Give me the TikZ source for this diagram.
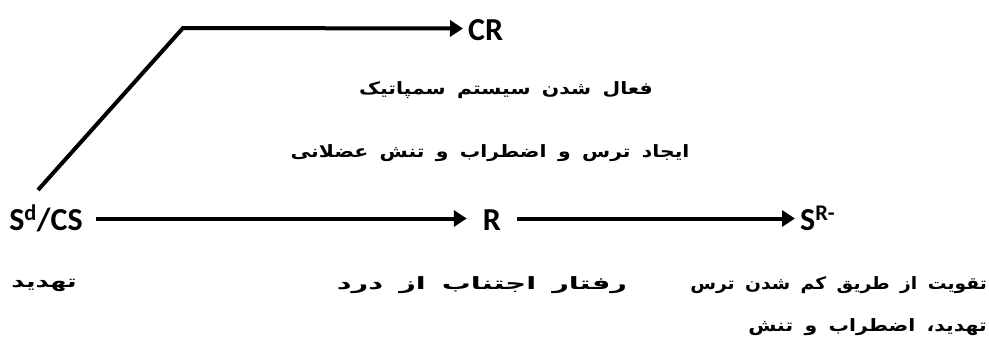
\documentclass[tikz,border=0pt]{standalone}
\usepackage{fontspec}
\usetikzlibrary{arrows.meta}
\setmainfont{Carlito}
\newfontfamily\farsi[Script=Arabic,WordSpace=1.6]{DejaVu Sans}
\TeXXeTstate=1
\newcommand{\rl}[2][1.2]{\scalebox{#1}[1]{\beginR #2\endR}}

\begin{document}
\begin{tikzpicture}[x=1pt,y=-1pt]
\tikzset{term/.style={font=\bfseries\fontsize{32}{40}\selectfont,inner sep=0pt,
                      text height=23pt,text depth=0pt,anchor=base},
         fa/.style={font=\farsi\bfseries\fontsize{17}{20}\selectfont,inner sep=0pt},
         conn/.style={line width=4pt,-{Triangle[length=13pt,width=16pt]}}}
\useasboundingbox (0,0) rectangle (989,356);
% terms
\node[term] (cs) at (46,230) {S\textsuperscript{d}/CS};
\node[term] (r) at (492,230) {R};
\node[term,anchor=base west] (sr) at (800,230) {S\textsuperscript{R-}};
\node[term,anchor=base west] (cr) at (468,40) {CR};
\coordinate (start) at (38,190);
\coordinate (bend) at (183,28);
% labels
\node[fa] (symp) at (506,90) {\rl{فعال شدن سیستم سمپاتیک}};
\node[fa] (fear) at (490,153) {\rl{ایجاد ترس و اضطراب و تنش عضلانی}};
\node[fa] (threat) at (44,285) {\rl[1.5]{تهدید}};
\node[fa] (avoid) at (482,285) {\rl[1.7]{رفتار اجتناب از درد}};
\node[fa,anchor=east] (reinf) at (987,285) {\rl[1.1]{تقویت از طریق کم شدن ترس}};
\node[fa,anchor=east] (reinf2) at (987,327) {\rl{تهدید، اضطراب و تنش}};
% connectors
\draw[conn,shorten <=13pt,shorten >=16pt] (cs.east) -- (r.west);
\draw[conn,shorten <=16pt,shorten >=5pt] (r.east) -- (sr.west);
\draw[conn,shorten >=5pt,line join=miter] (start) -- (bend) -- (cr.west);
\end{tikzpicture}
\end{document}
